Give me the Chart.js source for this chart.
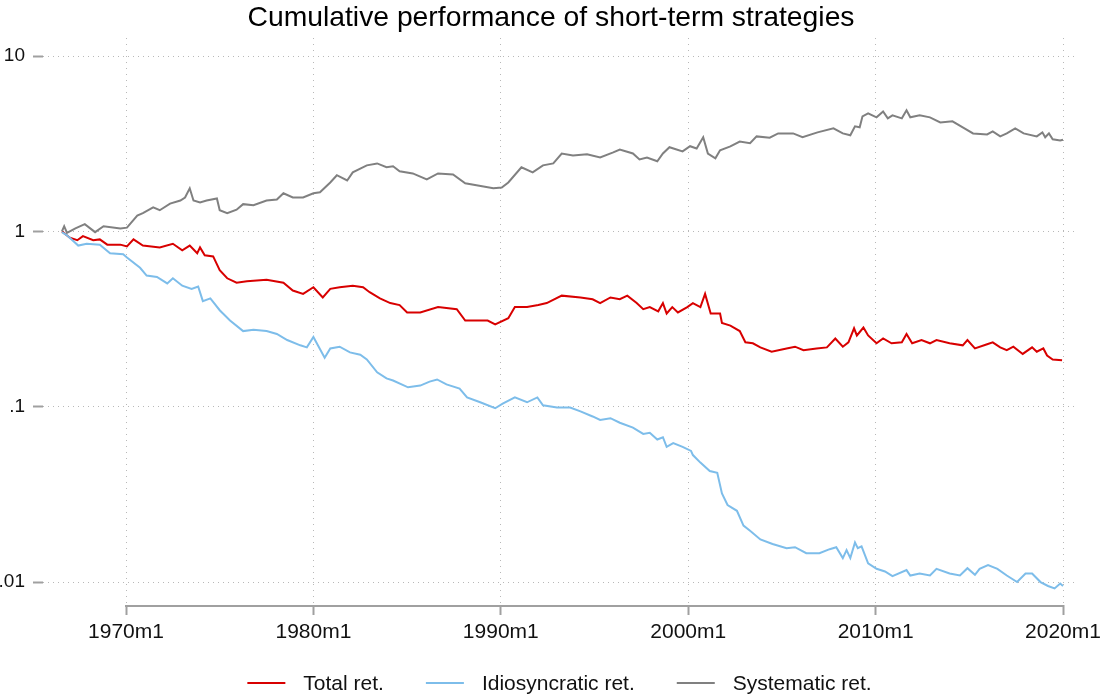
<!DOCTYPE html>
<html>
<head>
<meta charset="utf-8">
<title>Cumulative performance of short-term strategies</title>
<script src="https://cdn.jsdelivr.net/npm/chart.js@4.4.1/dist/chart.umd.min.js"></script>
<style>
  html, body { margin: 0; padding: 0; background: #fff; }
  #wrap { width: 1102px; height: 698px; }
</style>
</head>
<body>
<div id="wrap"><canvas id="perfChart" width="1102" height="698"></canvas></div>
<script>
// dates are decimal years (1970.0 = 1970m1)
const seriesLabels = ["Total ret.", "Idiosyncratic ret.", "Systematic ret."];

const totalDates = [1966.58, 1967.0, 1967.4, 1967.7, 1968.25, 1968.6, 1969.0, 1969.7, 1970.05, 1970.4, 1970.9, 1971.8, 1972.5, 1973.0, 1973.4, 1973.8, 1973.95, 1974.2, 1974.65, 1975.0, 1975.4, 1975.9, 1976.45, 1977.5, 1978.4, 1978.9, 1979.45, 1980.0, 1980.5, 1980.9, 1981.4, 1982.1, 1982.65, 1983.0, 1983.55, 1984.1, 1984.6, 1985.0, 1985.7, 1986.65, 1987.65, 1988.1, 1988.7, 1989.3, 1989.7, 1990.4, 1990.75, 1991.4, 1992.0, 1992.45, 1993.25, 1994.25, 1994.9, 1995.3, 1995.85, 1996.35, 1996.75, 1997.25, 1997.6, 1997.95, 1998.4, 1998.65, 1998.85, 1999.15, 1999.45, 1999.95, 2000.25, 2000.65, 2000.9, 2001.2, 2001.7, 2001.8, 2002.25, 2002.75, 2003.05, 2003.45, 2003.85, 2004.45, 2005.25, 2005.7, 2006.15, 2006.85, 2007.4, 2007.85, 2008.25, 2008.55, 2008.85, 2009.0, 2009.35, 2009.6, 2010.05, 2010.4, 2010.85, 2011.4, 2011.65, 2011.95, 2012.45, 2012.9, 2013.25, 2013.95, 2014.65, 2014.9, 2015.3, 2015.95, 2016.25, 2016.65, 2017.0, 2017.35, 2017.85, 2018.35, 2018.6, 2018.95, 2019.15, 2019.45, 2019.95];
const totalValues = [1.0, 0.92, 0.89, 0.94, 0.89, 0.90, 0.84, 0.84, 0.82, 0.90, 0.83, 0.81, 0.85, 0.78, 0.83, 0.75, 0.81, 0.73, 0.72, 0.60, 0.54, 0.51, 0.52, 0.53, 0.51, 0.46, 0.44, 0.48, 0.42, 0.47, 0.48, 0.49, 0.48, 0.45, 0.415, 0.39, 0.38, 0.345, 0.345, 0.37, 0.36, 0.31, 0.31, 0.31, 0.295, 0.32, 0.37, 0.37, 0.38, 0.39, 0.43, 0.42, 0.41, 0.39, 0.42, 0.41, 0.43, 0.39, 0.36, 0.37, 0.35, 0.39, 0.34, 0.37, 0.345, 0.37, 0.39, 0.37, 0.44, 0.34, 0.34, 0.30, 0.29, 0.27, 0.233, 0.23, 0.218, 0.206, 0.215, 0.22, 0.21, 0.215, 0.218, 0.245, 0.22, 0.233, 0.28, 0.255, 0.283, 0.255, 0.23, 0.245, 0.23, 0.233, 0.26, 0.23, 0.24, 0.23, 0.24, 0.23, 0.224, 0.24, 0.215, 0.227, 0.233, 0.218, 0.21, 0.22, 0.20, 0.218, 0.206, 0.215, 0.196, 0.186, 0.184];

const idioDates = [1966.58, 1966.85, 1967.45, 1967.9, 1968.6, 1969.15, 1969.85, 1970.05, 1970.75, 1971.1, 1971.65, 1972.2, 1972.5, 1973.0, 1973.5, 1973.85, 1974.1, 1974.5, 1975.0, 1975.55, 1976.25, 1976.8, 1977.5, 1978.05, 1978.6, 1979.3, 1979.65, 1980.0, 1980.6, 1980.9, 1981.4, 1981.95, 1982.5, 1982.85, 1983.4, 1983.9, 1984.25, 1985.05, 1985.7, 1986.2, 1986.6, 1987.1, 1987.8, 1988.2, 1988.9, 1989.7, 1990.1, 1990.75, 1991.4, 1991.95, 1992.25, 1993.0, 1993.7, 1994.25, 1994.9, 1995.3, 1995.85, 1996.35, 1997.05, 1997.6, 1997.95, 1998.35, 1998.65, 1998.85, 1999.2, 1999.7, 2000.15, 2000.25, 2000.65, 2001.15, 2001.55, 2001.8, 2002.1, 2002.6, 2002.95, 2003.3, 2003.85, 2004.5, 2005.25, 2005.7, 2006.3, 2007.0, 2007.55, 2007.9, 2008.25, 2008.45, 2008.65, 2008.9, 2009.05, 2009.25, 2009.6, 2010.05, 2010.5, 2010.9, 2011.65, 2011.85, 2012.35, 2012.9, 2013.25, 2013.95, 2014.5, 2014.9, 2015.3, 2015.55, 2016.0, 2016.5, 2017.0, 2017.55, 2018.0, 2018.35, 2018.8, 2019.2, 2019.55, 2019.85, 2020.0];
const idioValues = [0.99, 0.95, 0.83, 0.85, 0.84, 0.75, 0.74, 0.71, 0.62, 0.56, 0.55, 0.505, 0.54, 0.49, 0.47, 0.485, 0.40, 0.415, 0.355, 0.31, 0.27, 0.275, 0.27, 0.26, 0.24, 0.224, 0.218, 0.25, 0.19, 0.215, 0.22, 0.204, 0.198, 0.186, 0.157, 0.145, 0.141, 0.129, 0.132, 0.139, 0.143, 0.134, 0.127, 0.113, 0.106, 0.098, 0.104, 0.113, 0.106, 0.113, 0.102, 0.099, 0.099, 0.094, 0.088, 0.084, 0.086, 0.081, 0.076, 0.070, 0.071, 0.065, 0.067, 0.059, 0.062, 0.059, 0.056, 0.053, 0.048, 0.043, 0.042, 0.032, 0.0275, 0.0255, 0.021, 0.0196, 0.0175, 0.0165, 0.0156, 0.0158, 0.0146, 0.0146, 0.0154, 0.0158, 0.0137, 0.0152, 0.0137, 0.0168, 0.0156, 0.016, 0.0128, 0.0119, 0.0115, 0.0108, 0.0117, 0.0109, 0.0112, 0.0109, 0.0119, 0.0112, 0.0109, 0.012, 0.011, 0.0119, 0.0125, 0.0119, 0.0109, 0.0100, 0.0112, 0.0112, 0.0100, 0.0095, 0.0092, 0.0098, 0.0095];

const systDates = [1966.58, 1966.7, 1966.85, 1967.3, 1967.8, 1968.35, 1968.8, 1969.7, 1970.05, 1970.6, 1970.9, 1971.45, 1971.8, 1972.35, 1972.9, 1973.15, 1973.4, 1973.6, 1973.95, 1974.3, 1974.85, 1975.0, 1975.4, 1975.9, 1976.25, 1976.8, 1977.5, 1978.05, 1978.4, 1978.9, 1979.45, 1980.0, 1980.35, 1980.9, 1981.25, 1981.8, 1982.1, 1982.85, 1983.4, 1983.9, 1984.25, 1984.6, 1985.3, 1986.05, 1986.65, 1987.45, 1988.1, 1988.7, 1989.6, 1990.05, 1990.4, 1991.1, 1991.7, 1992.25, 1992.8, 1993.25, 1993.85, 1994.6, 1995.3, 1996.0, 1996.35, 1997.05, 1997.4, 1997.8, 1998.35, 1998.65, 1999.0, 1999.7, 2000.1, 2000.45, 2000.8, 2001.05, 2001.45, 2001.7, 2002.25, 2002.75, 2003.3, 2003.65, 2004.35, 2004.8, 2005.6, 2006.1, 2006.9, 2007.75, 2008.25, 2008.65, 2008.9, 2009.15, 2009.3, 2009.6, 2010.05, 2010.4, 2010.65, 2010.9, 2011.4, 2011.65, 2011.85, 2012.35, 2012.9, 2013.45, 2014.1, 2014.65, 2015.2, 2015.95, 2016.25, 2016.65, 2017.0, 2017.45, 2017.9, 2018.6, 2018.9, 2019.05, 2019.25, 2019.45, 2019.85, 2020.0];
const systValues = [1.0, 1.07, 0.98, 1.04, 1.1, 0.99, 1.07, 1.04, 1.05, 1.23, 1.27, 1.37, 1.32, 1.44, 1.50, 1.56, 1.76, 1.50, 1.46, 1.50, 1.54, 1.32, 1.27, 1.33, 1.43, 1.41, 1.50, 1.52, 1.65, 1.56, 1.56, 1.65, 1.67, 1.90, 2.09, 1.95, 2.17, 2.38, 2.44, 2.32, 2.35, 2.2, 2.14, 1.98, 2.14, 2.11, 1.88, 1.83, 1.76, 1.78, 1.90, 2.32, 2.17, 2.38, 2.44, 2.78, 2.71, 2.75, 2.64, 2.82, 2.93, 2.78, 2.57, 2.64, 2.51, 2.78, 3.02, 2.86, 3.06, 2.97, 3.44, 2.78, 2.61, 2.9, 3.05, 3.25, 3.18, 3.48, 3.42, 3.62, 3.62, 3.44, 3.67, 3.87, 3.62, 3.53, 3.97, 3.92, 4.53, 4.71, 4.47, 4.83, 4.41, 4.59, 4.41, 4.90, 4.47, 4.59, 4.47, 4.18, 4.24, 3.92, 3.62, 3.57, 3.72, 3.48, 3.62, 3.87, 3.62, 3.48, 3.67, 3.44, 3.62, 3.35, 3.30, 3.33];

const xTicks = [1970, 1980, 1990, 2000, 2010, 2020];
const yTicks = [0.01, 0.1, 1, 10];
const yTickLabels = [".01", ".1", "1", "10"];

const FONT = "'Liberation Sans', Arial, Helvetica, sans-serif";

function toPoints(dates, values) {
  return dates.map((d, i) => ({ x: d, y: values[i] }));
}

// Stata-style x axis line, only spanning the first to the last tick
const axisLine = {
  id: "axisLine",
  beforeDatasetsDraw(chart) {
    const sx = chart.scales.x;
    const ctx = chart.ctx;
    const y = chart.chartArea.bottom + 1;
    ctx.save();
    ctx.strokeStyle = "#a0a0a0";
    ctx.lineWidth = 2;
    ctx.beginPath();
    ctx.moveTo(sx.getPixelForValue(xTicks[0]) - 1, y);
    ctx.lineTo(sx.getPixelForValue(xTicks[xTicks.length - 1]) + 1, y);
    ctx.stroke();
    ctx.restore();
  },
};

// legend row under the axis: short line, then label
const bottomLegend = {
  id: "bottomLegend",
  afterDraw(chart) {
    const ctx = chart.ctx;
    const area = chart.chartArea;
    const lineLen = 38, gap = 18, spacing = 42;
    ctx.save();
    ctx.font = "21px " + FONT;
    ctx.textBaseline = "middle";
    const items = chart.data.datasets.map((ds) => ({
      text: ds.label,
      color: ds.borderColor,
      w: ctx.measureText(ds.label).width,
    }));
    const total = items.reduce((s, it) => s + lineLen + gap + it.w, 0) + spacing * (items.length - 1);
    let x = (area.left + area.right) / 2 - total / 2 - 1;
    const y = 683;
    items.forEach((it) => {
      ctx.strokeStyle = it.color;
      ctx.lineWidth = 2;
      ctx.beginPath();
      ctx.moveTo(x, y);
      ctx.lineTo(x + lineLen, y);
      ctx.stroke();
      ctx.fillStyle = "#111";
      ctx.fillText(it.text, x + lineLen + gap, y + 1);
      x += lineLen + gap + it.w + spacing;
    });
    ctx.restore();
  },
};

const ctx = document.getElementById("perfChart").getContext("2d");
new Chart(ctx, {
  type: "line",
  data: {
    datasets: [
      {
        label: seriesLabels[0],
        data: toPoints(totalDates, totalValues),
        borderColor: "#d80000",
        order: 3,
      },
      {
        label: seriesLabels[1],
        data: toPoints(idioDates, idioValues),
        borderColor: "#7dbdea",
        order: 2,
      },
      {
        label: seriesLabels[2],
        data: toPoints(systDates, systValues),
        borderColor: "#808080",
        order: 1,
      },
    ],
  },
  options: {
    responsive: false,
    animation: false,
    devicePixelRatio: 1,
    layout: { padding: { top: 0, left: 0, right: 0, bottom: 43 } },
    elements: {
      point: { radius: 0 },
      line: { borderWidth: 2, tension: 0, fill: false },
    },
    plugins: {
      legend: { display: false },
      tooltip: { enabled: false },
      title: {
        display: true,
        text: "Cumulative performance of short-term strategies",
        color: "#000",
        font: { family: FONT, size: 28.3, weight: "normal" },
        padding: { top: 1.5, bottom: 2.54 },
      },
    },
    scales: {
      x: {
        type: "linear",
        min: 1965.57,
        max: 2020.8,
        afterBuildTicks: (s) => {
          s.ticks = xTicks.map((v) => ({ value: v }));
        },
        afterFit: (s) => {
          s.height = 50;
          s.paddingLeft = 0;
          s.paddingRight = 24;
        },
        ticks: {
          callback: (v) => v + "m1",
          color: "#111",
          font: { family: FONT, size: 21 },
          padding: 5,
          maxRotation: 0,
          autoSkip: false,
        },
        grid: {
          color: "#b8b8b8",
          lineWidth: 1,
          tickLength: 10,
          tickColor: "#a0a0a0",
          tickWidth: 2,
        },
        border: { display: false, dash: [1, 5] },
      },
      y: {
        type: "logarithmic",
        min: 0.0074,
        max: 12.67,
        afterBuildTicks: (s) => {
          s.ticks = yTicks.map((v) => ({ value: v }));
        },
        afterFit: (s) => {
          s.width = 43;
        },
        ticks: {
          callback: (v) => yTickLabels[yTicks.indexOf(v)],
          color: "#111",
          font: { family: FONT, size: 19 },
          padding: 8,
        },
        grid: {
          color: "#b8b8b8",
          lineWidth: 1,
          tickLength: 10,
          tickColor: "#a0a0a0",
          tickWidth: 2,
        },
        border: { display: false, dash: [1, 4] },
      },
    },
  },
  plugins: [axisLine, bottomLegend],
});
</script>
</body>
</html>
